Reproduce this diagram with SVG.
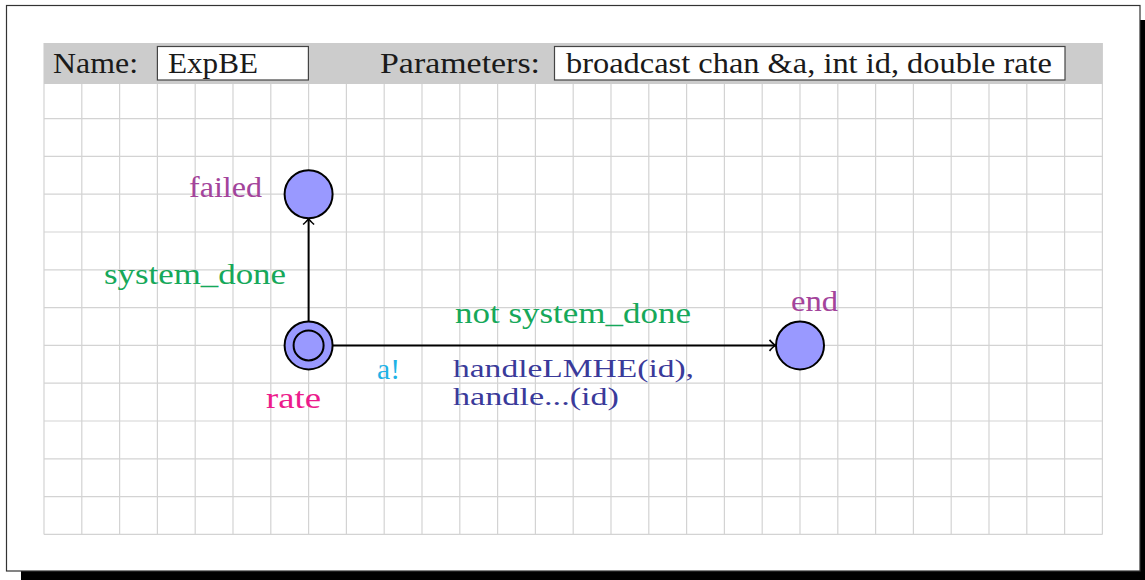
<svg xmlns="http://www.w3.org/2000/svg" width="1145" height="580" viewBox="0 0 1145 580">
  <style>
    .grid line { stroke: #d3d3d3; stroke-width: 1.2; }
    .loc { fill: #9999ff; stroke: #000; stroke-width: 2; }
    .edge { fill: none; stroke: #000; stroke-width: 2; }
    .txt { font-family: "Liberation Serif", "Times New Roman", serif; font-size: 30px; }
    .small { font-size: 26px; }
    .hdr { fill: #1a1a1a; }
    .name { fill: #a3449b; }
    .rate { fill: #ec1b8c; }
    .guard { fill: #16a85a; }
    .sync { fill: #1eb2e6; }
    .upd { fill: #3a3a9a; }
    .box { fill: #fff; stroke: #444; stroke-width: 1.2; }
  </style>
  <defs>
    <marker id="arr" markerWidth="14" markerHeight="14" refX="11" refY="7" orient="auto" markerUnits="userSpaceOnUse">
      <path d="M5,1.5 Q9,6 11,7 Q9,8 5,12.5" fill="none" stroke="#000" stroke-width="1.6"/>
    </marker>
  </defs>

  <!-- page with drop shadow -->
  <rect x="21" y="20" width="1124" height="560" fill="#000"/>
  <rect x="6.5" y="5.5" width="1133.5" height="565.5" fill="#fff" stroke="#333" stroke-width="1.2"/>

  <!-- background grid -->
  <g class="grid">
    <line x1="81.8" y1="84" x2="81.8" y2="534.4"/>
    <line x1="119.6" y1="84" x2="119.6" y2="534.4"/>
    <line x1="157.4" y1="84" x2="157.4" y2="534.4"/>
    <line x1="195.2" y1="84" x2="195.2" y2="534.4"/>
    <line x1="233" y1="84" x2="233" y2="534.4"/>
    <line x1="270.8" y1="84" x2="270.8" y2="534.4"/>
    <line x1="308.6" y1="84" x2="308.6" y2="534.4"/>
    <line x1="346.4" y1="84" x2="346.4" y2="534.4"/>
    <line x1="384.2" y1="84" x2="384.2" y2="534.4"/>
    <line x1="422" y1="84" x2="422" y2="534.4"/>
    <line x1="459.8" y1="84" x2="459.8" y2="534.4"/>
    <line x1="497.6" y1="84" x2="497.6" y2="534.4"/>
    <line x1="535.4" y1="84" x2="535.4" y2="534.4"/>
    <line x1="573.2" y1="84" x2="573.2" y2="534.4"/>
    <line x1="611" y1="84" x2="611" y2="534.4"/>
    <line x1="648.8" y1="84" x2="648.8" y2="534.4"/>
    <line x1="686.6" y1="84" x2="686.6" y2="534.4"/>
    <line x1="724.4" y1="84" x2="724.4" y2="534.4"/>
    <line x1="762.2" y1="84" x2="762.2" y2="534.4"/>
    <line x1="800" y1="84" x2="800" y2="534.4"/>
    <line x1="837.8" y1="84" x2="837.8" y2="534.4"/>
    <line x1="875.6" y1="84" x2="875.6" y2="534.4"/>
    <line x1="913.4" y1="84" x2="913.4" y2="534.4"/>
    <line x1="951.2" y1="84" x2="951.2" y2="534.4"/>
    <line x1="989" y1="84" x2="989" y2="534.4"/>
    <line x1="1026.8" y1="84" x2="1026.8" y2="534.4"/>
    <line x1="1064.6" y1="84" x2="1064.6" y2="534.4"/>
    <line x1="44" y1="43" x2="44" y2="534.4"/>
    <line x1="1102.4" y1="43" x2="1102.4" y2="534.4"/>
    <line x1="44" y1="118.6" x2="1102.4" y2="118.6"/>
    <line x1="44" y1="156.4" x2="1102.4" y2="156.4"/>
    <line x1="44" y1="194.2" x2="1102.4" y2="194.2"/>
    <line x1="44" y1="232" x2="1102.4" y2="232"/>
    <line x1="44" y1="269.8" x2="1102.4" y2="269.8"/>
    <line x1="44" y1="307.6" x2="1102.4" y2="307.6"/>
    <line x1="44" y1="345.4" x2="1102.4" y2="345.4"/>
    <line x1="44" y1="383.2" x2="1102.4" y2="383.2"/>
    <line x1="44" y1="421" x2="1102.4" y2="421"/>
    <line x1="44" y1="458.8" x2="1102.4" y2="458.8"/>
    <line x1="44" y1="496.6" x2="1102.4" y2="496.6"/>
    <line x1="44" y1="534.4" x2="1102.4" y2="534.4"/>
  </g>

  <!-- template header -->
  <g id="header">
    <rect x="44" y="43" width="1058.4" height="41" fill="#cccccc"/>
    <text class="txt hdr" x="53" y="73" textLength="85" lengthAdjust="spacingAndGlyphs">Name:</text>
    <rect class="box" x="157.4" y="46.5" width="151" height="33.5"/>
    <text class="txt hdr" x="168" y="73" textLength="90" lengthAdjust="spacingAndGlyphs">ExpBE</text>
    <text class="txt hdr" x="380" y="73" textLength="160" lengthAdjust="spacingAndGlyphs">Parameters:</text>
    <rect class="box" x="554.5" y="46.5" width="510.5" height="33.5"/>
    <text class="txt hdr" x="566" y="73" textLength="486" lengthAdjust="spacingAndGlyphs">broadcast chan &amp;a, int id, double rate</text>
  </g>

  <!-- transitions -->
  <g id="edges">
    <line class="edge" x1="308.6" y1="321" x2="308.6" y2="218.5" marker-end="url(#arr)"/>
    <line class="edge" x1="333" y1="345.4" x2="775.5" y2="345.4" marker-end="url(#arr)"/>
    <text class="txt guard" x="104" y="284" textLength="182" lengthAdjust="spacingAndGlyphs">system_done</text>
    <text class="txt guard" x="455" y="323" textLength="236" lengthAdjust="spacingAndGlyphs">not system_done</text>
    <text class="txt sync" x="377" y="379" textLength="23" lengthAdjust="spacingAndGlyphs">a!</text>
    <text class="txt small upd" x="453" y="377" textLength="241" lengthAdjust="spacingAndGlyphs">handleLMHE(id),</text>
    <text class="txt small upd" x="453" y="405" textLength="166" lengthAdjust="spacingAndGlyphs">handle...(id)</text>
  </g>

  <!-- locations -->
  <g id="loc-rate">
    <circle class="loc" cx="308.6" cy="345.4" r="24"/>
    <circle class="loc" cx="308.6" cy="345.4" r="15"/>
    <text class="txt rate" x="266" y="408" textLength="55" lengthAdjust="spacingAndGlyphs">rate</text>
  </g>
  <g id="loc-failed">
    <circle class="loc" cx="308.6" cy="194.2" r="24"/>
    <text class="txt name" x="189" y="197" textLength="73" lengthAdjust="spacingAndGlyphs">failed</text>
  </g>
  <g id="loc-end">
    <circle class="loc" cx="800" cy="345.4" r="24"/>
    <text class="txt name" x="791" y="311" textLength="47" lengthAdjust="spacingAndGlyphs">end</text>
  </g>
</svg>
